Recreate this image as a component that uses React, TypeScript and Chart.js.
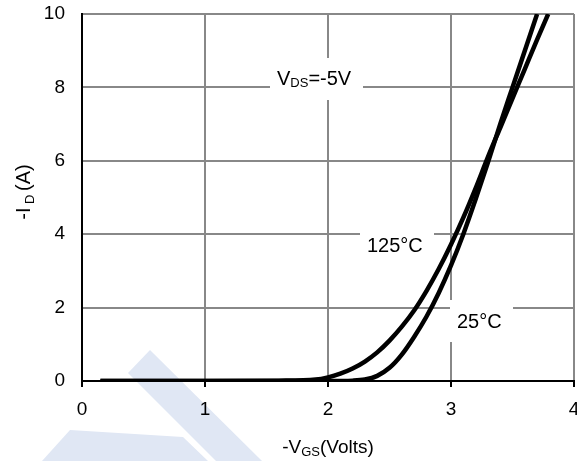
import React, { useEffect, useRef } from "react";
import { Chart, registerables } from "chart.js";

Chart.register(...registerables);

// -VGS (V) vs -ID (A)
const vgs125 = [0.15, 1.0, 1.6, 1.9, 2.0, 2.1, 2.2, 2.3, 2.4, 2.5, 2.6, 2.7, 2.8, 2.9, 3.0, 3.1, 3.2, 3.3, 3.4, 3.5, 3.6, 3.7, 3.79];
const id125 = [0, 0, 0.01, 0.04, 0.1, 0.2, 0.34, 0.53, 0.78, 1.1, 1.48, 1.92, 2.45, 3.05, 3.72, 4.45, 5.25, 6.1, 6.9, 7.7, 8.5, 9.3, 10];

const vgs25 = [0.15, 1.0, 2.0, 2.2, 2.3, 2.4, 2.5, 2.6, 2.7, 2.8, 2.9, 3.0, 3.1, 3.2, 3.3, 3.4, 3.5, 3.6, 3.7];
const id25 = [0, 0, 0, 0.01, 0.04, 0.14, 0.36, 0.72, 1.2, 1.75, 2.4, 3.15, 4.0, 4.95, 5.95, 7.0, 8.0, 9.0, 10];

const xTicks = [0, 1, 2, 3, 4];
const yTicks = [0, 2, 4, 6, 8, 10];

const FAMILY = '"Liberation Sans", Arial, sans-serif';

type Seg = { t: string; size: number; dy: number };

function richWidth(ctx: CanvasRenderingContext2D, segs: Seg[]) {
  let w = 0;
  for (const s of segs) {
    ctx.font = `${s.size}px ${FAMILY}`;
    w += ctx.measureText(s.t).width;
  }
  return w;
}

function drawRich(ctx: CanvasRenderingContext2D, segs: Seg[], x: number, y: number) {
  let cx = x;
  ctx.textBaseline = "alphabetic";
  ctx.textAlign = "left";
  for (const s of segs) {
    ctx.font = `${s.size}px ${FAMILY}`;
    ctx.fillText(s.t, cx, y + s.dy);
    cx += ctx.measureText(s.t).width;
  }
}

const overlay = {
  id: "overlay",
  beforeDraw(chart: any) {
    const ctx = chart.ctx as CanvasRenderingContext2D;
    ctx.save();
    ctx.fillStyle = "#e0e7f4";
    ctx.beginPath();
    ctx.moveTo(150, 350);
    ctx.lineTo(128, 373);
    ctx.lineTo(216, 461);
    ctx.lineTo(262, 461);
    ctx.closePath();
    ctx.fill();
    ctx.beginPath();
    ctx.moveTo(70, 430);
    ctx.lineTo(183, 437);
    ctx.lineTo(208, 461);
    ctx.lineTo(42, 461);
    ctx.closePath();
    ctx.fill();
    ctx.restore();
  },
  beforeDatasetsDraw(chart: any) {
    const ctx = chart.ctx as CanvasRenderingContext2D;
    ctx.save();
    ctx.fillStyle = "#ffffff";
    ctx.fillRect(270, 58, 93, 42);
    ctx.fillRect(360, 222, 74, 42);
    ctx.fillRect(450, 300, 63, 42);
    ctx.fillStyle = "#000000";
    drawRich(ctx, [
      { t: "V", size: 20, dy: 0 },
      { t: "DS", size: 13, dy: 2 },
      { t: "=-5V", size: 20, dy: 0 },
    ], 277, 85);
    drawRich(ctx, [{ t: "125°C", size: 20, dy: 0 }], 367, 252);
    drawRich(ctx, [{ t: "25°C", size: 20, dy: 0 }], 457, 328);
    ctx.restore();
  },
  afterDraw(chart: any) {
    const ctx = chart.ctx as CanvasRenderingContext2D;
    ctx.save();
    ctx.fillStyle = "#000000";
    const xt: Seg[] = [
      { t: "-V", size: 19, dy: 0 },
      { t: "GS", size: 13, dy: 3 },
      { t: "(Volts)", size: 19, dy: 0 },
    ];
    const wx = richWidth(ctx, xt);
    drawRich(ctx, xt, 328 - wx / 2, 453);
    const yt: Seg[] = [
      { t: "-I", size: 20, dy: 0 },
      { t: " D ", size: 13, dy: 4 },
      { t: "(A)", size: 20, dy: 0 },
    ];
    const wy = richWidth(ctx, yt);
    ctx.translate(30, 192);
    ctx.rotate(-Math.PI / 2);
    drawRich(ctx, yt, -wy / 2, 0);
    ctx.restore();
  },
};

export default function App() {
  const ref = useRef<HTMLCanvasElement | null>(null);
  useEffect(() => {
    if (!ref.current) return;
    const chart = new Chart(ref.current, {
      type: "line",
      data: {
        datasets: [
          {
            label: "125°C",
            data: vgs125.map((x, i) => ({ x, y: id125[i] })),
            borderColor: "#000",
            borderWidth: 4.5,
            pointRadius: 0,
            cubicInterpolationMode: "monotone",
            fill: false,
          },
          {
            label: "25°C",
            data: vgs25.map((x, i) => ({ x, y: id25[i] })),
            borderColor: "#000",
            borderWidth: 4.5,
            pointRadius: 0,
            cubicInterpolationMode: "monotone",
            fill: false,
          },
        ],
      },
      options: {
        responsive: false,
        animation: false,
        events: [],
        layout: { padding: { top: 14, right: 3, left: 0, bottom: 0 } },
        plugins: { legend: { display: false }, tooltip: { enabled: false } },
        scales: {
          x: {
            type: "linear",
            min: 0,
            max: 4,
            afterBuildTicks: (s: any) => {
              s.ticks = xTicks.map((v) => ({ value: v }));
            },
            afterFit: (s: any) => {
              s.height = 80;
              s.paddingLeft = 0;
              s.paddingRight = 0;
            },
            grid: { color: "#888888", lineWidth: 2, drawTicks: true, tickLength: 6, tickColor: "#000", tickWidth: 2 },
            border: { color: "#000", width: 2 },
            ticks: { color: "#000", font: { size: 19, family: FAMILY }, padding: 11, maxRotation: 0 },
          },
          y: {
            type: "linear",
            min: 0,
            max: 10,
            afterBuildTicks: (s: any) => {
              s.ticks = yTicks.map((v) => ({ value: v }));
            },
            afterFit: (s: any) => {
              s.width = 82;
              s.paddingTop = 0;
              s.paddingBottom = 0;
            },
            grid: { color: "#888888", lineWidth: 2, drawTicks: false },
            border: { color: "#000", width: 2 },
            ticks: { color: "#000", font: { size: 19, family: FAMILY }, padding: 17 },
          },
        },
      },
      plugins: [overlay],
    } as any);
    return () => chart.destroy();
  }, []);
  return (
    <canvas
      ref={ref}
      width={577}
      height={461}
      style={{ position: "fixed", left: 0, top: 0, width: 577, height: 461, display: "block" }}
    />
  );
}
